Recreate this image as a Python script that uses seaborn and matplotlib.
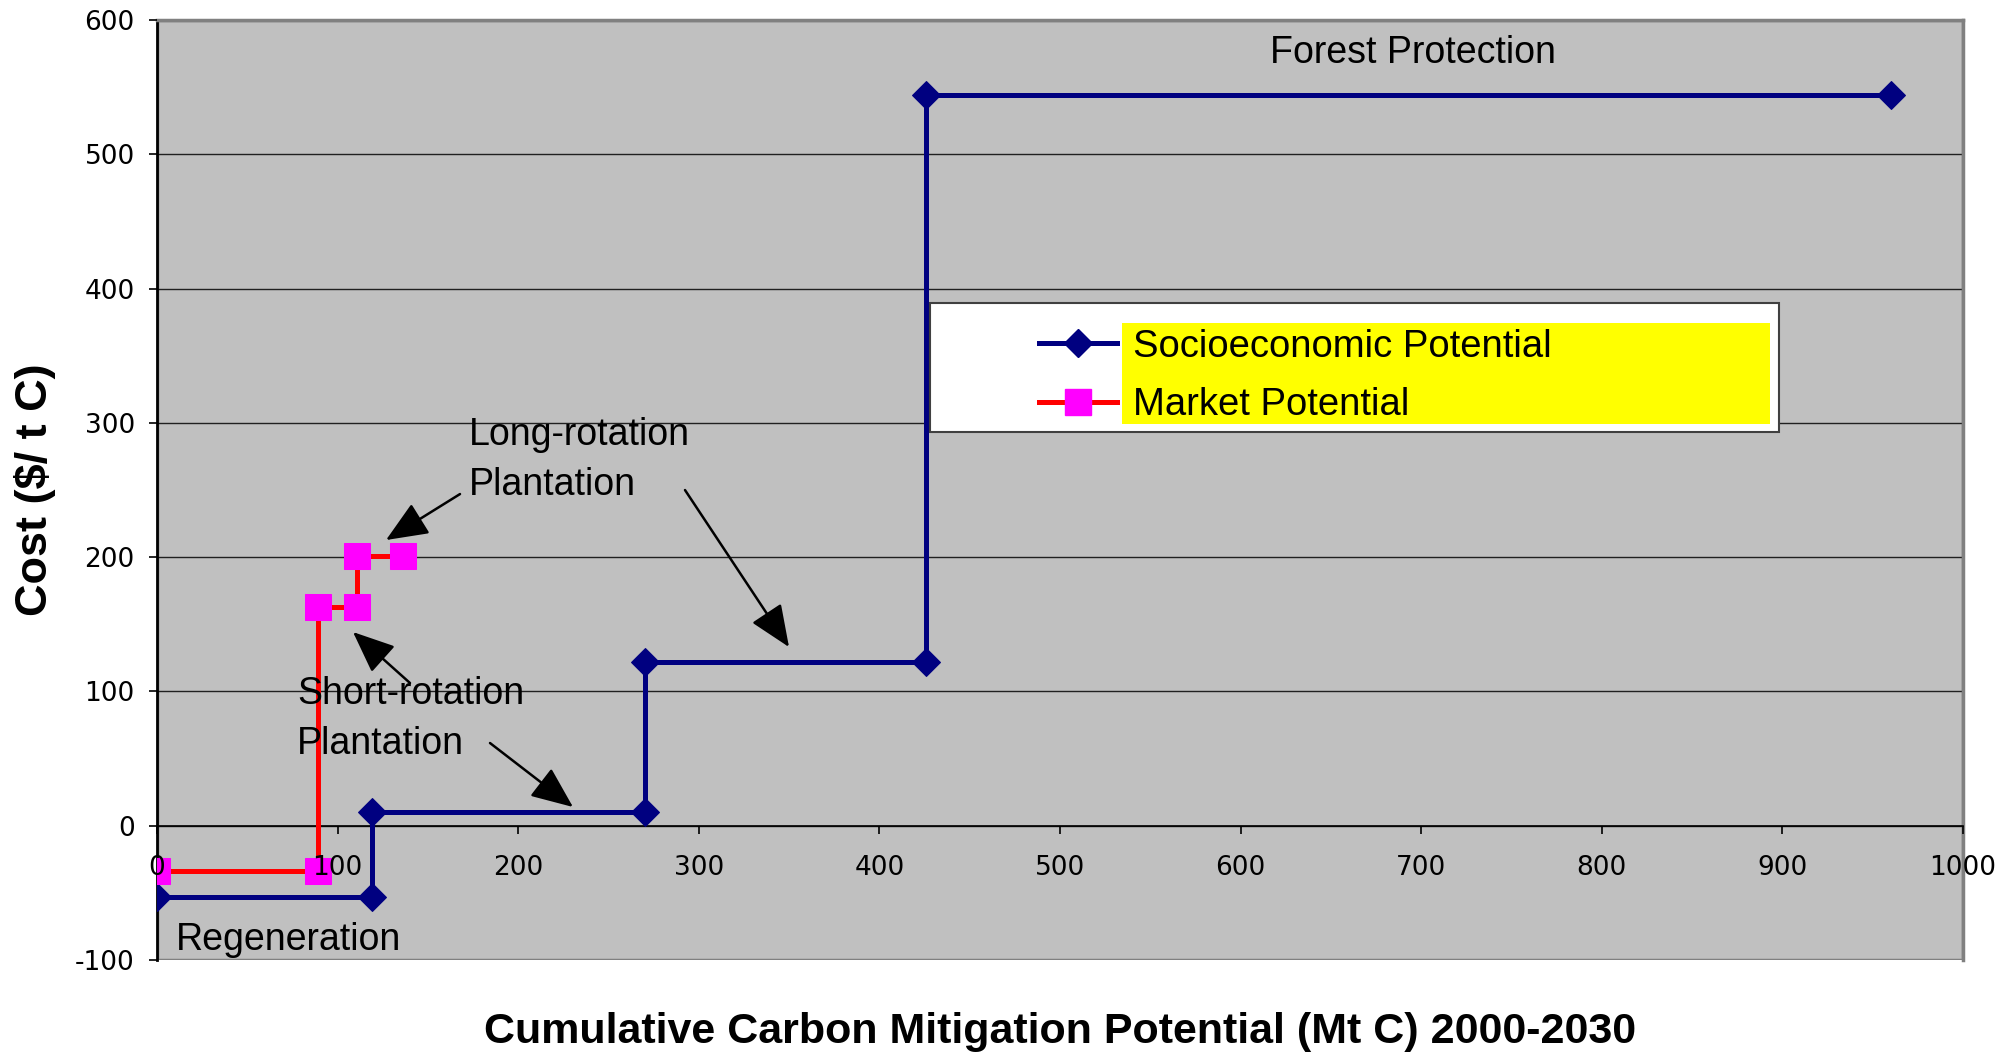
import matplotlib
matplotlib.use("Agg")
import matplotlib.pyplot as plt
from matplotlib.patches import Rectangle
from matplotlib.lines import Line2D
import seaborn as sns
import pandas as pd

# ---- data ----
socio_x = [0, 119, 119, 270, 270, 426, 426, 960]
socio_y = [-53, -53, 10, 10, 122, 122, 544, 544]
market_x = [0, 89, 89, 111, 111, 136]
market_y = [-34, -34, 163, 163, 201, 201]
x_ticks = [0, 100, 200, 300, 400, 500, 600, 700, 800, 900, 1000]
y_ticks = [-100, 0, 100, 200, 300, 400, 500, 600]
series_names = ["Socioeconomic Potential", "Market Potential"]
x_label = "Cumulative Carbon Mitigation Potential (Mt C) 2000-2030"
y_label = "Cost ($/ t C)"

NAVY = "#000080"
RED = "#FF0000"
MAGENTA = "#FF00FF"
BG = "#C0C0C0"

plt.rcParams["font.family"] = ["Liberation Sans", "DejaVu Sans"]
NARROW = ["Liberation Sans Narrow", "Liberation Sans"]

fig = plt.figure(figsize=(20.16, 10.56), dpi=100)
ax = fig.add_axes([157/2016, 1-960/1056, (1963-157)/2016, (960-20)/1056])
ax.set_facecolor(BG)

socio = pd.DataFrame({"x": socio_x, "y": socio_y})
market = pd.DataFrame({"x": market_x, "y": market_y})

sns.lineplot(data=socio, x="x", y="y", sort=False, estimator=None, ax=ax,
             color=NAVY, lw=3.6, marker="D", markersize=14.5,
             markerfacecolor=NAVY, markeredgecolor=NAVY, zorder=3)
sns.lineplot(data=market, x="x", y="y", sort=False, estimator=None, ax=ax,
             color=RED, lw=3.6, marker="s", markersize=19,
             markerfacecolor=MAGENTA, markeredgecolor=MAGENTA, zorder=3.2)

ax.set_xlim(0, 1000)
ax.set_ylim(-100, 600)
ax.set_xticks(x_ticks)
ax.set_yticks(y_ticks)
ax.set_xticklabels([str(v) for v in x_ticks])
ax.set_yticklabels([str(v) for v in y_ticks])
ax.grid(False)
for v in y_ticks[1:]:
    ax.axhline(v, color="#202020", lw=1.0, zorder=1)

ax.spines["bottom"].set_position(("data", 0))
ax.spines["bottom"].set_color("black")
ax.spines["bottom"].set_linewidth(1.2)
ax.spines["left"].set_color("black")
ax.spines["left"].set_linewidth(2.0)
for s in ["top", "right"]:
    ax.spines[s].set_color("#808080")
    ax.spines[s].set_linewidth(2.5)
ax.add_patch(Rectangle((0, 0), 1, 1, transform=ax.transAxes, fill=False,
                       edgecolor="#808080", lw=2.5, zorder=0.9))

ax.xaxis.set_zorder(4)
ax.yaxis.set_zorder(4)
ax.tick_params(axis="x", direction="out", length=6, width=1.2, pad=15,
               labelsize=19, labelfontfamily="DejaVu Sans")
ax.tick_params(axis="y", direction="out", length=6, width=1.2, pad=10,
               labelsize=19, labelfontfamily="DejaVu Sans")

ax.set_xlabel(x_label, fontsize=31, fontweight="bold", family=NARROW, va="center")
ax.xaxis.set_label_coords(0.5, (960-1032)/940)
ax.set_ylabel(y_label, fontsize=32.5, fontweight="bold", family=NARROW, va="center")
ax.yaxis.set_label_coords((35-157)/1806, 0.5)

def d(px, py):
    return ((px-157)/1.806, (960-py)/1.343 - 100)

tfs = 27
ax.text(*d(1413, 53), "Forest Protection", fontsize=tfs, ha="center", va="center")
ax.text(*d(469, 460), "Long-rotation\nPlantation", fontsize=tfs, ha="left",
        va="center", linespacing=1.5)
ax.text(*d(297, 719), "Short-rotation\nPlantation", fontsize=tfs, ha="left",
        va="center", linespacing=1.5, zorder=5)
ax.text(*d(176, 940), "Regeneration", fontsize=tfs, ha="left", va="center")

arrow_kw = dict(arrowstyle="-|>,head_length=1.3,head_width=0.55", color="black",
                lw=1.8, mutation_scale=20, shrinkA=0, shrinkB=0)
for tail, head in [((460, 494), (386, 540)), ((685, 490), (789, 647)),
                   ((410, 683), (353, 632)), ((490, 743), (573, 807))]:
    ax.annotate("", xy=d(*head), xytext=d(*tail), arrowprops=arrow_kw, zorder=5)

# legend box with yellow label highlight
ax.add_patch(Rectangle(((930-157)/1806, (960-432)/940), (1779-930)/1806, (432-303)/940,
                       transform=ax.transAxes, facecolor="white", edgecolor="#404040",
                       lw=1.5, zorder=6))
ax.add_patch(Rectangle(((1122-157)/1806, (960-424)/940), (1770-1122)/1806, (424-323)/940,
                       transform=ax.transAxes, facecolor="#FFFF00", edgecolor="none",
                       zorder=6.5))
handles = [Line2D([], [], color=NAVY, lw=3.6, marker="D", markersize=14.5,
                  markerfacecolor=NAVY, markeredgecolor=NAVY),
           Line2D([], [], color=RED, lw=3.6, marker="s", markersize=19,
                  markerfacecolor=MAGENTA, markeredgecolor=MAGENTA)]
leg = ax.legend(handles, series_names, loc="center left",
                bbox_to_anchor=((1039-157)/1806, (960-376)/940),
                frameon=False, borderpad=0, borderaxespad=0, fontsize=27.5,
                handlelength=2.05, handletextpad=0.4, labelspacing=0.6)
leg.set_zorder(7)

fig.savefig("out.png", dpi=100, facecolor="white")
